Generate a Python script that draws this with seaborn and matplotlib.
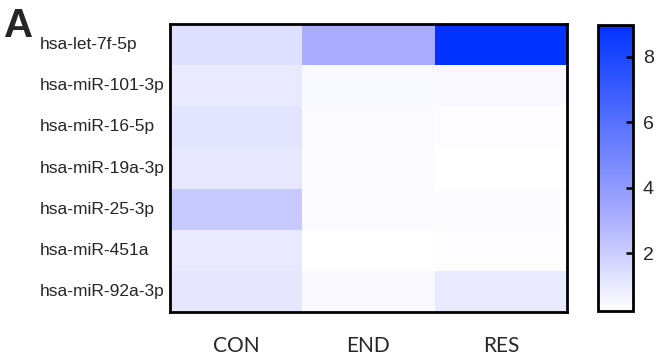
import numpy as np
import pandas as pd
import matplotlib
matplotlib.use("Agg")
import matplotlib.pyplot as plt
from matplotlib.colors import LinearSegmentedColormap
import seaborn as sns

mirnas = ["hsa-let-7f-5p", "hsa-miR-101-3p", "hsa-miR-16-5p", "hsa-miR-19a-3p",
          "hsa-miR-25-3p", "hsa-miR-451a", "hsa-miR-92a-3p"]
groups = ["CON", "END", "RES"]

con = [1.35, 1.00, 1.20, 1.05, 2.10, 1.00, 1.10]
end = [3.10, 0.50, 0.40, 0.40, 0.40, 0.23, 0.45]
res = [8.97, 0.45, 0.30, 0.25, 0.35, 0.30, 1.00]

cbar_ticks = [2, 4, 6, 8]

df = pd.DataFrame({"CON": con, "END": end, "RES": res}, index=mirnas)[groups]

cmap = LinearSegmentedColormap.from_list(
    "white_blue", [(0.0, "#ffffff"), (0.33, "#aaadff"), (1.0, "#0033ff")])

sns.set_style("ticks")
plt.rcParams["font.family"] = ["Liberation Sans", "DejaVu Sans"]

fig = plt.figure(figsize=(6.61, 3.6), dpi=100)
ax = fig.add_axes([170 / 661, 1 - 312 / 360, 397 / 661, 288 / 360])
cax = fig.add_axes([598 / 661, 1 - 311 / 360, 35 / 661, 286 / 360])

sns.heatmap(df, ax=ax, cbar_ax=cax, cmap=cmap, vmin=0.23, vmax=8.97,
            linewidths=0, cbar_kws={"ticks": cbar_ticks})

for s in ax.spines.values():
    s.set_visible(True)
    s.set_linewidth(2)
    s.set_color("black")

ax.tick_params(axis="both", length=0)
ax.tick_params(axis="y", pad=94)
ax.set_yticklabels(mirnas, rotation=0, fontsize=12.5, ha="left")
ax.tick_params(axis="x", pad=17)
ax.set_xticklabels(groups, fontsize=15, family="Lato")
ax.set_xlabel("")
ax.set_ylabel("")

cb = ax.collections[0].colorbar
cb.outline.set_visible(True)
cb.outline.set_linewidth(2)
cb.outline.set_edgecolor("black")
cax.set_axisbelow(False)
cax.tick_params(axis="y", which="major", direction="in", length=5,
                width=1.8, color="black", right=True,
                labelright=True, labelsize=14, pad=7)
cax.tick_params(axis="y", which="minor", length=0)

# matching inward ticks on the left edge of the colour bar
left_ticks = cax.secondary_yaxis("left")
left_ticks.set_yticks(cbar_ticks)
left_ticks.tick_params(axis="y", direction="in", length=5, width=1.8,
                       color="black", labelleft=False)
left_ticks.spines["left"].set_visible(False)

fig.text(4 / 661, 1 - 37 / 360, "A", fontsize=29, fontweight="bold")

fig.savefig("out.png", dpi=100)
